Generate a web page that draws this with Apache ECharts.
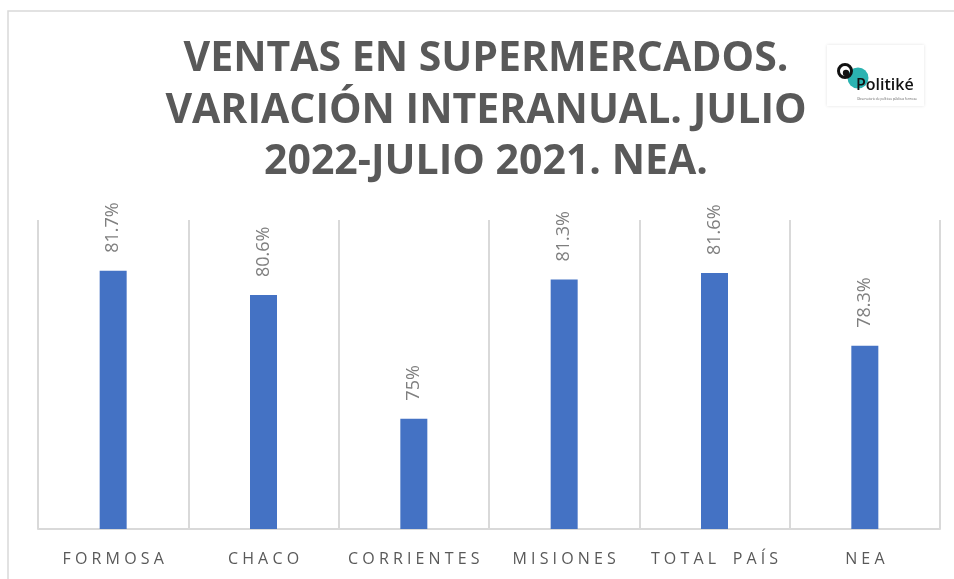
<!DOCTYPE html>
<html>
<head>
<meta charset="utf-8">
<script src="https://cdn.jsdelivr.net/npm/echarts@6/dist/echarts.min.js"></script>
<style>
    html, body { margin: 0; padding: 0; background: #fff; }
    #chart { width: 954px; height: 579px; }
</style>
</head>
<body>
<div id="chart"></div>
<script>
// datos del gráfico
const categorias = ['FORMOSA', 'CHACO', 'CORRIENTES', 'MISIONES', 'TOTAL PAÍS', 'NEA'];
const variacion = [81.7, 80.6, 75, 81.3, 81.6, 78.3];
const tituloLineas = ['VENTAS EN SUPERMERCADOS.', 'VARIACIÓN INTERANUAL. JULIO', '2022-JULIO 2021. NEA.'];

const gris = '#595959';
const lineaGris = '#d9d9d9';

// separa las letras como en el original
const espaciar = (txt) => txt.split('').map(c => c === ' ' ? '  ' : c).join(' ');

const option = {
    animation: false,
    grid: {
        left: 38,
        right: 14,
        top: 220,
        bottom: 50
    },
    xAxis: {
        type: 'category',
        data: categorias,
        axisLine: { lineStyle: { color: lineaGris, width: 2 } },
        axisTick: { show: false },
        splitLine: { show: true, interval: 0, lineStyle: { color: lineaGris, width: 2 } },
        axisLabel: {
            interval: 0,
            margin: 22,
            color: gris,
            fontFamily: 'Open Sans',
            fontSize: 16,
            formatter: espaciar
        }
    },
    yAxis: {
        type: 'value',
        min: 70,
        max: 84,
        show: false
    },
    series: [
        {
            type: 'bar',
            data: variacion,
            barWidth: 27,
            itemStyle: { color: '#4472C4' },
            label: {
                show: true,
                position: 'top',
                distance: 18,
                rotate: 90,
                align: 'left',
                verticalAlign: 'middle',
                color: '#7f7f7f',
                fontFamily: 'Open Sans',
                fontSize: 18,
                formatter: (p) => p.value + '%'
            }
        }
    ],
    graphic: [
        // borde exterior
        {
            type: 'rect',
            shape: { x: 8, y: 11, width: 980, height: 620 },
            style: { fill: 'none', stroke: lineaGris, lineWidth: 1.5 },
            silent: true
        },
        // título
        {
            type: 'text',
            silent: true,
            style: {
                x: 486,
                y: 34,
                text: tituloLineas.join('\n'),
                align: 'center',
                verticalAlign: 'top',
                lineHeight: 51.5,
                fill: gris,
                font: 'bold 41px "Open Sans"'
            }
        },
        // logo
        {
            type: 'group',
            silent: true,
            children: [
                {
                    type: 'rect',
                    shape: { x: 827, y: 45, width: 97, height: 61 },
                    style: { fill: '#fff', shadowBlur: 3, shadowColor: 'rgba(0,0,0,0.12)' }
                },
                {
                    type: 'circle',
                    shape: { cx: 858, cy: 78, r: 10.5 },
                    style: { fill: '#2bb3b1' }
                },
                {
                    type: 'circle',
                    shape: { cx: 845, cy: 71, r: 6.5 },
                    style: { fill: 'none', stroke: '#111', lineWidth: 3 }
                },
                {
                    type: 'circle',
                    shape: { cx: 846, cy: 73, r: 3.2 },
                    style: { fill: '#111' }
                },
                {
                    type: 'text',
                    style: {
                        x: 856, y: 93, text: 'Politiké',
                        verticalAlign: 'bottom',
                        fill: '#111', font: '600 16px "Open Sans"'
                    }
                },
                {
                    type: 'text',
                    style: {
                        x: 857, y: 99, text: 'Observatorio de políticas públicas formosa',
                        verticalAlign: 'middle',
                        fill: '#666', font: '3px "Open Sans"'
                    }
                }
            ]
        }
    ]
};

const chart = echarts.init(document.getElementById('chart'));
chart.setOption(option);
</script>
</body>
</html>
